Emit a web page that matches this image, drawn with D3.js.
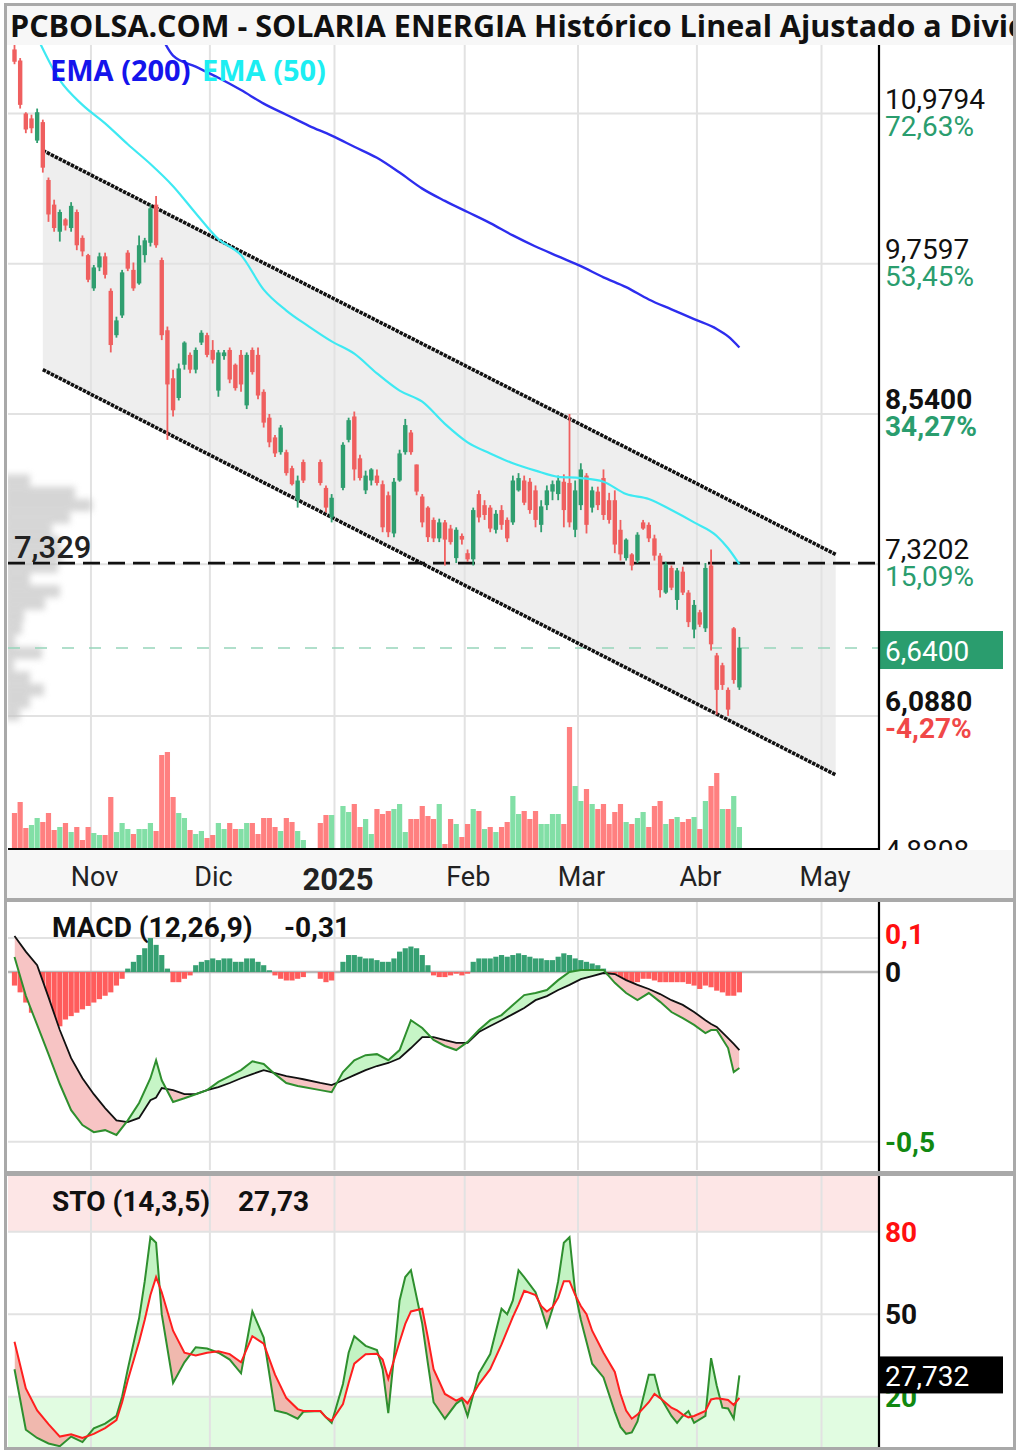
<!DOCTYPE html>
<html>
<head>
<meta charset="utf-8">
<script src="https://cdn.jsdelivr.net/npm/d3@7"></script>
<style>
body{margin:0;background:#fff}
svg{display:block}
text{font-family:Roboto,"Noto Sans",sans-serif}
</style>
</head>
<body>
<svg id="chart" width="1020" height="1454"></svg>
<script>
// ---- data (weekday index 0 = 14 oct 2024 ... 128 = 10 abr 2025, null = festivo) ----
var opens = [11.50,11.41,10.98,10.94,10.76,10.91,10.44,10.24,10.02,10.12,
  10.05,10.18,9.97,9.83,9.56,9.73,9.82,9.54,9.18,9.34,
  9.85,9.71,9.60,9.83,9.93,10.24,9.79,9.22,8.83,8.67,
  8.94,9.02,8.90,9.12,9.18,9.06,8.73,9.01,9.06,8.94,
  9.02,8.61,9.06,9.02,8.72,8.51,8.35,8.23,8.23,8.10,
  7.84,8.15,null,null,8.15,7.94,7.70,null,7.94,8.33,
  8.52,8.18,7.92,8.00,8.04,7.97,7.88,7.57,8.00,8.23,
  8.39,8.13,7.87,7.78,7.68,7.53,7.66,7.61,7.37,7.55,
  7.41,7.36,7.89,7.80,7.78,7.60,7.76,7.68,7.66,7.92,
  8.00,7.99,7.92,7.64,7.80,7.91,7.89,7.99,7.98,7.60,
  7.80,8.04,7.78,7.91,8.02,7.84,7.84,7.60,7.37,7.40,
  7.35,7.66,7.64,7.53,7.39,7.09,7.29,7.03,7.26,7.09,
  6.79,6.93,6.80,7.31,6.58,6.50,6.30,6.80,6.32];
var highs = [11.58,11.43,10.99,10.97,11.02,10.93,10.46,10.28,10.20,10.13,
  10.26,10.20,9.99,9.84,9.75,9.85,9.85,9.56,9.33,9.71,
  9.87,9.77,9.99,9.97,10.24,10.31,9.81,9.25,8.90,8.95,
  9.13,9.04,9.08,9.22,9.20,9.14,9.06,9.06,9.08,8.95,
  9.06,9.04,9.08,9.08,8.74,8.54,8.37,8.45,8.25,8.12,
  8.04,8.17,null,null,8.17,7.96,7.89,null,8.31,8.51,
  8.56,8.21,8.08,8.10,8.09,8.00,7.91,8.02,8.25,8.50,
  8.41,8.13,7.89,7.79,7.70,7.69,7.68,7.64,7.62,7.57,
  7.44,7.78,7.92,7.84,7.80,7.76,7.80,7.70,8.04,8.06,
  8.04,8.02,7.96,7.84,7.96,8.00,8.04,8.05,8.54,8.00,
  8.14,8.06,7.95,7.95,8.09,7.90,7.92,7.68,7.53,7.41,
  7.58,7.68,7.66,7.56,7.41,7.34,7.31,7.29,7.30,7.11,
  7.03,6.95,7.33,7.44,6.60,6.52,6.32,6.81,6.73];
var lows = [11.38,11.02,10.82,10.82,10.74,10.50,10.10,10.02,9.94,10.03,
  10.02,9.87,9.82,9.61,9.54,9.70,9.64,9.04,9.16,9.32,
  9.70,9.54,9.59,9.77,9.90,9.89,9.14,8.33,8.52,8.65,
  8.90,8.87,8.87,9.10,9.00,8.95,8.68,8.98,8.79,8.73,
  8.72,8.58,8.86,8.66,8.43,8.27,8.19,8.21,8.04,7.96,
  7.78,7.98,null,null,7.96,7.74,7.66,null,7.92,8.31,
  8.00,8.00,7.89,7.96,7.96,7.58,7.54,7.54,7.99,8.21,
  8.21,7.88,7.62,7.50,7.50,7.50,7.31,7.48,7.33,7.48,
  7.34,7.31,7.66,7.68,7.58,7.57,7.60,7.50,7.64,7.91,
  7.80,7.73,7.62,7.58,7.76,7.84,7.84,7.62,7.62,7.54,
  7.76,7.57,7.74,7.76,7.68,7.65,7.41,7.35,7.35,7.27,
  7.33,7.60,7.50,7.35,7.05,7.08,7.11,6.95,7.07,6.81,
  6.72,6.81,6.77,6.62,6.10,6.30,6.088,6.35,6.30];
var closes = [11.40,11.05,10.85,10.86,10.99,10.54,10.16,10.05,10.18,10.07,
  10.23,9.91,9.86,9.63,9.73,9.82,9.67,9.10,9.30,9.69,
  9.72,9.56,9.91,9.95,10.21,9.91,9.18,8.78,8.57,8.91,
  9.12,8.90,9.06,9.20,9.02,8.98,9.04,9.04,8.82,8.75,
  8.78,9.02,8.88,8.69,8.47,8.31,8.22,8.43,8.06,7.97,
  8.00,8.00,null,null,7.98,7.78,7.86,null,8.29,8.49,
  8.09,8.02,8.04,8.09,7.98,7.62,7.58,7.99,8.22,8.45,
  8.23,7.91,7.66,7.54,7.53,7.66,7.52,7.50,7.60,7.52,
  7.36,7.76,7.70,7.72,7.61,7.73,7.64,7.53,8.00,8.02,
  7.82,7.76,7.68,7.79,7.92,7.97,8.00,7.76,7.66,7.92,
  8.09,7.64,7.92,7.80,7.72,7.68,7.48,7.40,7.52,7.31,
  7.56,7.61,7.53,7.39,7.11,7.32,7.13,7.27,7.09,6.85,
  6.99,6.83,7.29,6.67,6.30,6.34,6.14,6.38,6.64];
// volumen (miles de acciones)
var volumes = [900,1175,525,600,775,675,900,475,550,650,
  425,550,225,550,400,350,350,1300,425,650,
  500,375,500,500,650,450,2350,2425,1300,900,
  775,475,375,450,275,350,650,500,650,500,
  500,650,650,375,775,775,550,450,775,675,
  450,225,null,null,650,850,850,null,1075,925,
  1125,550,750,375,1000,875,950,1000,1125,425,
  750,750,1075,825,750,1125,125,750,625,300,
  625,1000,950,500,550,425,550,675,1325,875,
  950,750,950,625,625,875,875,625,3050,1575,
  1200,1500,1125,1000,1125,625,925,1125,675,625,
  775,925,550,1075,1200,625,750,800,675,750,
  800,500,1200,1575,1900,1000,1000,1325,550];

var ema50Idx = [4,8,12,16,20,24,28,32,36,40,44,48,52,56,60,64,68,72,76,80,84,88,92,96,100,104,108,112,116,120,124,126,128];
var ema50 = [11.60,11.25,11.05,10.90,10.73,10.57,10.39,10.17,9.96,9.83,9.55,9.38,9.25,9.13,9.03,8.87,8.73,8.64,8.46,8.31,8.22,8.14,8.08,8.03,8.02,7.99,7.89,7.85,7.76,7.66,7.55,7.45,7.32];
var ema200Idx = [26,28,32,36,40,44,48,52,56,60,64,68,72,76,80,84,88,92,96,100,104,108,112,116,120,124,126,128];
var ema200 = [11.60,11.45,11.36,11.27,11.17,11.06,10.97,10.88,10.80,10.71,10.62,10.50,10.37,10.27,10.18,10.09,9.99,9.90,9.82,9.74,9.65,9.57,9.47,9.39,9.31,9.23,9.17,9.08];

// canal bajista
var chanIdx = [5,145];
var chanUpper = [10.68,7.40];
var chanLower = [8.90,5.61];

// perfil de volumen (centro de tramo de precio, volumen relativo)
var vpPrice = [8.00,7.90,7.80,7.70,7.60,7.50,7.40,7.30,7.20,7.10,7.00,6.90,6.80,6.70,6.60,6.50,6.40,6.30,6.20,6.10];
var vpVol = [22,67,84,62,44,52,55,50,22,52,37,16,14,7,34,6,22,36,22,12];

var supportLevel = 7.329;
var lastPrice = 6.64;

var priceTicks = [10.9794,9.7597,8.54,7.3202,6.088,4.8808];
var pctLabels = ["72,63%","53,45%","34,27%","15,09%","-4,27%",""];
var boldTicks = [8.54,6.088];

var monthLabels = ["Nov","Dic","2025","Feb","Mar","Abr","May"];
var monthIdx = [14,35,57,80,100,121,143];

var macdHist = [-0.04,-0.06,-0.09,-0.12,-0.14,-0.16,-0.17,-0.17,-0.16,-0.14,
  -0.13,-0.12,-0.11,-0.10,-0.09,-0.08,-0.07,-0.06,-0.04,-0.02,
  0.01,0.03,0.05,0.07,0.10,0.08,0.05,0.01,-0.03,-0.03,
  -0.02,-0.01,0.02,0.03,0.035,0.04,0.035,0.04,0.04,0.03,
  0.03,0.04,0.04,0.03,0.02,0.005,-0.01,-0.02,-0.025,-0.025,
  -0.02,-0.015,null,null,-0.02,-0.03,-0.025,null,0.03,0.05,
  0.05,0.045,0.04,0.04,0.035,0.03,0.03,0.04,0.06,0.07,
  0.075,0.07,0.05,0.02,-0.01,-0.015,-0.015,-0.01,-0.005,-0.01,
  -0.005,0.03,0.04,0.04,0.04,0.045,0.05,0.045,0.05,0.055,
  0.05,0.045,0.04,0.04,0.035,0.035,0.045,0.055,0.05,0.04,
  0.035,0.03,0.025,0.02,0.01,-0.01,-0.02,-0.03,-0.03,-0.035,
  -0.03,-0.02,-0.02,-0.025,-0.03,-0.03,-0.03,-0.03,-0.03,-0.035,
  -0.04,-0.05,-0.04,-0.045,-0.055,-0.06,-0.07,-0.07,-0.06];
var macdIdx = [0,2,4,6,8,10,12,14,16,18,20,22,24,25,26,28,30,32,34,36,38,40,42,44,46,48,50,51,54,56,
  58,60,62,64,66,68,70,72,74,76,78,80,82,84,86,88,90,92,94,96,98,100,102,104,106,108,110,112,114,116,118,120,122,123,124,126,127,128];
var macdLine = [0.044,-0.07,-0.156,-0.242,-0.33,-0.407,-0.451,-0.472,-0.466,-0.48,
  -0.437,-0.386,-0.313,-0.26,-0.319,-0.383,-0.372,-0.36,-0.348,-0.324,
  -0.307,-0.289,-0.263,-0.271,-0.301,-0.327,-0.336,-0.339,-0.348,-0.354,
  -0.295,-0.26,-0.245,-0.242,-0.26,-0.23,-0.142,-0.165,-0.20,-0.218,
  -0.23,-0.206,-0.171,-0.142,-0.127,-0.097,-0.068,-0.062,-0.053,-0.024,
  0.0,0.006,0.006,0.006,-0.032,-0.062,-0.083,-0.062,-0.088,-0.118,
  -0.136,-0.156,-0.18,-0.171,-0.171,-0.224,-0.295,-0.283];
var macdSignal = [0.106,0.06,0.02,-0.074,-0.171,-0.254,-0.313,-0.36,-0.401,-0.437,
  -0.442,-0.43,-0.378,-0.37,-0.342,-0.348,-0.36,-0.36,-0.348,-0.339,
  -0.327,-0.313,-0.301,-0.289,-0.298,-0.307,-0.313,-0.316,-0.327,-0.333,
  -0.319,-0.304,-0.289,-0.277,-0.268,-0.254,-0.224,-0.192,-0.192,-0.201,
  -0.209,-0.209,-0.177,-0.159,-0.142,-0.124,-0.106,-0.083,-0.071,-0.053,
  -0.038,-0.021,-0.012,-0.003,-0.006,-0.024,-0.038,-0.05,-0.065,-0.083,
  -0.097,-0.118,-0.142,-0.153,-0.162,-0.195,-0.212,-0.23];
var macdTicks = [0.1,0,-0.5];
var macdLast = "-0,31";

var stoIdx = [0,2,4,6,8,10,12,14,16,18,19,20,22,23,24,25,26,28,30,32,34,36,38,40,42,44,46,48,50,51,
  54,55,56,58,59,60,62,64,65,66,68,69,70,72,73,74,76,78,79,80,82,84,86,87,88,89,90,92,93,94,
  95,96,97,98,99,100,101,102,104,106,107,108,109,110,112,113,114,116,117,118,119,120,122,123,124,125,126,127,128];
var stoK = [30,8,5,3,2,5.5,3.5,8.5,10.2,13,20,30,48.5,62,78,76,50,25,32.5,38,
  37.5,36,33.5,28.5,51,41.5,15,14,12,14.5,14.8,12.5,10.5,24.6,36,42,38.5,37,30,14,
  55,63.5,66,46.5,32,18,12,17.5,19,13,28.5,35.5,52,50,55,66,63.5,58,52,45.5,
  52,62,76,78,58,48,40,32,27,14.5,9,6.5,7,11,28,28,20,13,10.5,13,
  14.8,10.5,13,34,24,16,15.7,12,27.732];
var stoD = [40,23,15,10,5.5,6.3,5,6.5,8.6,11.5,18,26,40,48,57,63.5,58,44,36,35,
  36,36.5,35.5,32.5,42,39.3,28,19.5,15.5,14.8,14.8,12.5,11.2,17.3,25,32,35.4,35.6,33.5,26.5,
  40,46.5,51,52,41.5,30,21,18.6,19.6,17.6,24.5,30,39,44,49,53.5,58.5,57,53,51,
  52.5,56,62,62,57,53,50,44,36,29,21,15,12,13.5,18,21,19.5,16,15,13.5,
  12.5,13,14.8,19,19.4,19.2,18.8,17,19.6];
var stoTicks = [80,50,20];

// ---- scales ----
var L = 8, R = 879;
var x = d3.scaleLinear().domain([0, 128]).range([14.5, 739.4]);
var yP = d3.scaleLinear().domain([6.088, 8.54]).range([716, 414]);
var yV = d3.scaleLinear().domain([0, 3200]).range([849, 721]);
var yM = d3.scaleLinear().domain([-0.5, 0]).range([1141.7, 972]);
var yS = d3.scaleLinear().domain([20, 80]).range([1396.7, 1231.7]);

var UP = "#2f9e6f", DOWN = "#ef5f5f";
var fmt4 = function(v){ return d3.format(".4f")(v).replace(".", ","); };

var svg = d3.select("#chart");
var defs = svg.append("defs");
defs.append("clipPath").attr("id","clipMain").append("rect").attr("x",L).attr("y",45).attr("width",R-L).attr("height",804);
defs.append("clipPath").attr("id","clipMacd").append("rect").attr("x",L).attr("y",902).attr("width",R-L).attr("height",268);
defs.append("clipPath").attr("id","clipSto").append("rect").attr("x",L).attr("y",1176).attr("width",R-L).attr("height",271);
defs.append("clipPath").attr("id","clipFrame").append("rect").attr("x",7).attr("y",6).attr("width",1006).attr("height",1440);
defs.append("filter").attr("id","blur").attr("x","-20%").attr("y","-20%").attr("width","140%").attr("height","140%")
  .append("feGaussianBlur").attr("stdDeviation", 3);

svg.append("rect").attr("width",1020).attr("height",1454).attr("fill","#fff");

// ---- title ----
svg.append("rect").attr("x",7).attr("y",6).attr("width",1006).attr("height",39).attr("fill","#f7f7f7");
svg.append("g").attr("clip-path","url(#clipFrame)").append("text")
  .attr("x",10).attr("y",37)
  .style("font-family","'Open Sans',sans-serif").style("font-weight",700).style("font-size","30.5px")
  .attr("fill","#111")
  .text("PCBOLSA.COM - SOLARIA ENERGIA Histórico Lineal Ajustado a Dividendos");

// ---- main panel ----
var main = svg.append("g").attr("clip-path","url(#clipMain)");

// canal (relleno)
var chanPts = [[x(chanIdx[0]), yP(chanUpper[0])],[x(chanIdx[1]), yP(chanUpper[1])],
               [x(chanIdx[1]), yP(chanLower[1])],[x(chanIdx[0]), yP(chanLower[0])]];
main.append("polygon").attr("points", chanPts.map(function(p){return p.join(",");}).join(" "))
  .attr("fill","#eeeeee");

// rejilla
function vGrid(g, y0, y1){
  g.selectAll(null).data(monthIdx).enter().append("line")
    .attr("x1",function(d){return x(d-0.5);}).attr("x2",function(d){return x(d-0.5);})
    .attr("y1",y0).attr("y2",y1).attr("stroke","#e2e2e2").attr("stroke-width",2);
}
vGrid(main, 45, 849);
main.selectAll(null).data(priceTicks).enter().append("line")
  .attr("x1",L).attr("x2",R).attr("y1",function(d){return yP(d);}).attr("y2",function(d){return yP(d);})
  .attr("stroke","#e2e2e2").attr("stroke-width",2);

// perfil de volumen
var vpW = d3.scaleLinear().domain([0,100]).range([0,100]);
var binH = yP(7.0) - yP(7.1);
main.append("g").attr("filter","url(#blur)").attr("opacity",0.7)
  .selectAll("rect").data(vpPrice).enter().append("rect")
  .attr("x",L-4).attr("y",function(d){return yP(d) - binH/2;})
  .attr("width",function(d,k){return vpW(vpVol[k]) + 4;}).attr("height",binH)
  .attr("fill","#c4c4c4");

// volumen
var volIdx = d3.range(volumes.length).filter(function(i){return volumes[i] != null;});
main.append("g").selectAll("rect").data(volIdx).enter().append("rect")
  .attr("x",function(i){return x(i)-2.6;}).attr("width",5.2)
  .attr("y",function(i){return yV(volumes[i]);})
  .attr("height",function(i){return yV(0)-yV(volumes[i]);})
  .attr("fill",function(i){
    var prev = i; do { prev--; } while (prev >= 0 && closes[prev] == null);
    var ref = prev >= 0 ? closes[prev] : opens[i];
    return closes[i] >= ref ? "#82dfa6" : "#ff8080";
  });

// lineas horizontales
main.append("line").attr("x1",L).attr("x2",R).attr("y1",yP(lastPrice)).attr("y2",yP(lastPrice))
  .attr("stroke","#97d5bb").attr("stroke-width",1.6).attr("stroke-dasharray","12,15");
main.append("line").attr("x1",L).attr("x2",R).attr("y1",yP(supportLevel)).attr("y2",yP(supportLevel))
  .attr("stroke","#111").attr("stroke-width",2.6).attr("stroke-dasharray","17,8");

// canal (lineas)
[chanUpper, chanLower].forEach(function(c){
  main.append("line").attr("x1",x(chanIdx[0])).attr("y1",yP(c[0])).attr("x2",x(chanIdx[1])).attr("y2",yP(c[1]))
    .attr("stroke","#111").attr("stroke-width",3.6).attr("stroke-dasharray","3.5,1");
});

// velas
var candIdx = d3.range(opens.length).filter(function(i){return opens[i] != null;});
var cg = main.append("g");
candIdx.forEach(function(i){
  var col = closes[i] >= opens[i] ? UP : DOWN;
  cg.append("line").attr("x1",x(i)).attr("x2",x(i)).attr("y1",yP(highs[i])).attr("y2",yP(lows[i]))
    .attr("stroke",col).attr("stroke-width",1.8);
  var top = yP(Math.max(opens[i],closes[i])), bot = yP(Math.min(opens[i],closes[i]));
  cg.append("rect").attr("x",x(i)-2.2).attr("width",4.4).attr("y",top).attr("height",Math.max(1.5, bot-top))
    .attr("fill",col);
});

// medias
var emaLine = d3.line().curve(d3.curveMonotoneX);
main.append("path").attr("d", emaLine(ema200Idx.map(function(i,k){return [x(i), yP(ema200[k])];})))
  .attr("fill","none").attr("stroke","#2d2dee").attr("stroke-width",2.4);
main.append("path").attr("d", emaLine(ema50Idx.map(function(i,k){return [x(i), yP(ema50[k])];})))
  .attr("fill","none").attr("stroke","#3ee9f2").attr("stroke-width",2.2);

// textos del panel
svg.append("text").attr("x",50).attr("y",81)
  .style("font-family","'Open Sans',sans-serif").style("font-weight",700).style("font-size","29px")
  .attr("fill","#1414ec").text("EMA (200)");
svg.append("text").attr("x",202).attr("y",81)
  .style("font-family","'Open Sans',sans-serif").style("font-weight",700).style("font-size","29px")
  .attr("fill","#1ceef2").text("EMA (50)");
svg.append("text").attr("x",14).attr("y",558).style("font-size","31px").style("font-weight",500)
  .attr("fill","#222").text(d3.format(".3f")(supportLevel).replace(".", ","));

// eje derecho
var axR = svg.append("g");
priceTicks.forEach(function(p,k){
  var y = yP(p), bold = boldTicks.indexOf(p) >= 0;
  axR.append("text").attr("x",885).attr("y",y-5).style("font-size","28px")
    .style("font-weight",bold?700:400).attr("fill","#111").text(fmt4(p));
  if (pctLabels[k]) {
    axR.append("text").attr("x",885).attr("y",y+22).style("font-size","28px")
      .style("font-weight",bold?700:400)
      .attr("fill", pctLabels[k].charAt(0)==="-" ? "#f04848" : "#2a9d6e").text(pctLabels[k]);
  }
});
svg.append("rect").attr("x",878).attr("y",yP(lastPrice)-17).attr("width",125).attr("height",38).attr("fill","#2a9d6e");
svg.append("text").attr("x",885).attr("y",yP(lastPrice)+13).style("font-size","28px").attr("fill","#fff")
  .text(fmt4(lastPrice));

// banda del eje x
svg.append("rect").attr("x",7).attr("y",850).attr("width",1006).attr("height",48).attr("fill","#f7f7f7");
svg.append("line").attr("x1",L).attr("x2",R+1).attr("y1",849).attr("y2",849).attr("stroke","#000").attr("stroke-width",2.2);
svg.append("line").attr("x1",R).attr("x2",R).attr("y1",45).attr("y2",850).attr("stroke","#000").attr("stroke-width",2.2);
var xAxis = d3.axisBottom(x).tickValues(monthIdx.map(function(d){return d-0.5;})).tickSize(0)
  .tickFormat(function(d,k){return monthLabels[k];});
var xa = svg.append("g").attr("transform","translate(3,859)").call(xAxis);
xa.select(".domain").remove();
xa.selectAll("text").style("font-family","Roboto,sans-serif").attr("fill","#222")
  .attr("dy","0.9em")
  .style("font-weight",function(d,k){return monthLabels[k]==="2025"?700:400;})
  .style("font-size",function(d,k){return monthLabels[k]==="2025"?"31px":"27px";});

// separadores
svg.append("rect").attr("x",5).attr("y",898).attr("width",1010).attr("height",4).attr("fill","#a9a9a9");
svg.append("rect").attr("x",5).attr("y",1171).attr("width",1010).attr("height",5).attr("fill","#a9a9a9");

// relleno entre dos lineas
function bandFill(g, idx, a, b, y, top, bottom, upColor, dnColor, id){
  var pts = idx.map(function(i,k){return {i:i, a:a[k], b:b[k]};});
  defs.append("clipPath").attr("id",id+"Up").append("path")
    .attr("d", d3.area().x(function(d){return x(d.i);}).y0(top).y1(function(d){return y(d.b);})(pts));
  defs.append("clipPath").attr("id",id+"Dn").append("path")
    .attr("d", d3.area().x(function(d){return x(d.i);}).y0(bottom).y1(function(d){return y(d.b);})(pts));
  var ar = d3.area().x(function(d){return x(d.i);}).y0(function(d){return y(d.a);}).y1(function(d){return y(d.b);});
  g.append("path").attr("d", ar(pts)).attr("fill", upColor).attr("clip-path","url(#"+id+"Up)");
  g.append("path").attr("d", ar(pts)).attr("fill", dnColor).attr("clip-path","url(#"+id+"Dn)");
}

// ---- MACD ----
var mg = svg.append("g").attr("clip-path","url(#clipMacd)");
vGrid(mg, 902, 1170);
[0.1,-0.5].forEach(function(v){
  mg.append("line").attr("x1",L).attr("x2",R).attr("y1",yM(v)).attr("y2",yM(v)).attr("stroke","#e2e2e2").attr("stroke-width",2);
});
mg.append("line").attr("x1",L).attr("x2",R).attr("y1",yM(0)).attr("y2",yM(0)).attr("stroke","#b8b8b8").attr("stroke-width",2.5);
var histIdx = d3.range(macdHist.length).filter(function(i){return macdHist[i] != null;});
mg.append("g").selectAll("rect").data(histIdx).enter().append("rect")
  .attr("x",function(i){return x(i)-2.6;}).attr("width",5.2)
  .attr("y",function(i){return Math.min(yM(0), yM(macdHist[i]));})
  .attr("height",function(i){return Math.abs(yM(macdHist[i])-yM(0));})
  .attr("fill",function(i){return macdHist[i] >= 0 ? "#36a072" : "#ff5c5c";});
bandFill(mg, macdIdx, macdLine, macdSignal, yM, 902, 1170, "#c6f5c6", "#f7c4c4", "macdFill");
var ln = d3.line();
mg.append("path").attr("d", ln(macdIdx.map(function(i,k){return [x(i), yM(macdSignal[k])];})))
  .attr("fill","none").attr("stroke","#111").attr("stroke-width",1.8);
mg.append("path").attr("d", ln(macdIdx.map(function(i,k){return [x(i), yM(macdLine[k])];})))
  .attr("fill","none").attr("stroke","#2e8f2e").attr("stroke-width",2);
svg.append("line").attr("x1",R).attr("x2",R).attr("y1",902).attr("y2",1171).attr("stroke","#000").attr("stroke-width",2.2);
svg.append("text").attr("x",52).attr("y",937).style("font-size","28px").style("font-weight",700).attr("fill","#111").text("MACD (12,26,9)");
svg.append("text").attr("x",284).attr("y",937).style("font-size","28px").style("font-weight",700).attr("fill","#111").text(macdLast);
var macdCol = ["#ff1010","#111","#118811"];
macdTicks.forEach(function(v,k){
  svg.append("text").attr("x",885).attr("y",yM(v)+(k===0?6:10)).style("font-size","28px").style("font-weight",700)
    .attr("fill",macdCol[k]).text(String(v).replace(".", ","));
});

// ---- Estocastico ----
var sg = svg.append("g").attr("clip-path","url(#clipSto)");
sg.append("rect").attr("x",L).attr("y",1176).attr("width",R-L).attr("height",yS(80)-1176).attr("fill","#fde6e6");
sg.append("rect").attr("x",L).attr("y",yS(20)).attr("width",R-L).attr("height",1447-yS(20)).attr("fill","#e1fce1");
vGrid(sg, 1176, 1447);
stoTicks.forEach(function(v){
  sg.append("line").attr("x1",L).attr("x2",R).attr("y1",yS(v)).attr("y2",yS(v)).attr("stroke","#e2e2e2").attr("stroke-width",2);
});
bandFill(sg, stoIdx, stoK, stoD, yS, 1176, 1447, "#c3f3c3", "#f0b8ae", "stoFill");
sg.append("path").attr("d", ln(stoIdx.map(function(i,k){return [x(i), yS(stoK[k])];})))
  .attr("fill","none").attr("stroke","#2e8f2e").attr("stroke-width",2);
sg.append("path").attr("d", ln(stoIdx.map(function(i,k){return [x(i), yS(stoD[k])];})))
  .attr("fill","none").attr("stroke","#ff1f1f").attr("stroke-width",2);
svg.append("line").attr("x1",R).attr("x2",R).attr("y1",1176).attr("y2",1448).attr("stroke","#000").attr("stroke-width",2.2);
var lastK = stoK[stoK.length-1];
svg.append("text").attr("x",52).attr("y",1211).style("font-size","28px").style("font-weight",700).attr("fill","#111").text("STO (14,3,5)");
svg.append("text").attr("x",238).attr("y",1211).style("font-size","28px").style("font-weight",700).attr("fill","#111")
  .text(d3.format(".2f")(lastK).replace(".", ","));
var stoCol = ["#ff1010","#111","#118811"];
stoTicks.forEach(function(v,k){
  svg.append("text").attr("x",885).attr("y",yS(v)+10).style("font-size","28px").style("font-weight",700)
    .attr("fill",stoCol[k]).text(v);
});
svg.append("rect").attr("x",878).attr("y",yS(lastK)-19).attr("width",125).attr("height",37).attr("fill","#000");
svg.append("text").attr("x",885).attr("y",yS(lastK)+11).style("font-size","28px").attr("fill","#fff")
  .text(d3.format(".3f")(lastK).replace(".", ","));

// ---- marco ----
svg.append("rect").attr("x",5.5).attr("y",4.5).attr("width",1009).attr("height",1444)
  .attr("fill","none").attr("stroke","#a9a9a9").attr("stroke-width",3);
</script>
</body>
</html>
